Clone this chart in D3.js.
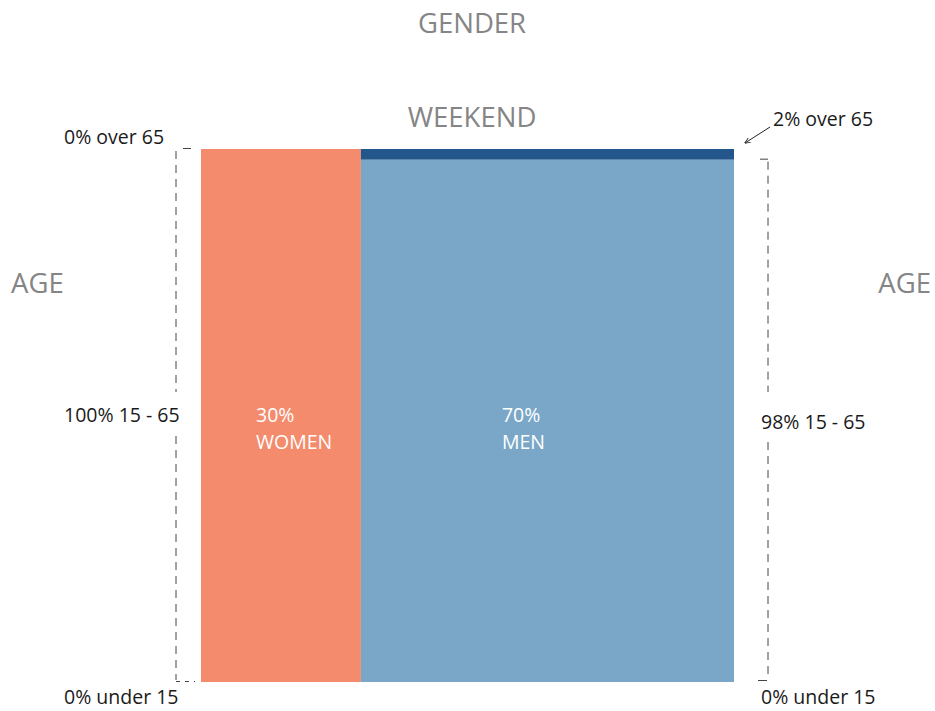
<!DOCTYPE html>
<html>
<head>
  <meta charset="utf-8">
  <title>Weekend mosaic</title>
  <style>
    body { margin: 0; background: #fff; }
    svg text { font-family: "Open Sans", "Noto Sans", sans-serif; }
    .title { fill: #858585; font-size: 27.5px; }
    .lab { fill: #1a1a1a; font-size: 19.5px; }
    .inner { fill: #fff; font-size: 19.5px; }
    .brk { stroke: #444; stroke-width: 1; fill: none; }
  </style>
</head>
<body>
  <svg id="chart" width="935" height="711"></svg>

  <script src="https://cdn.jsdelivr.net/npm/d3@7/dist/d3.min.js"></script>
  <script>
    var genders = ['WOMEN', 'MEN'];
    var genderShare = [30, 70];
    var ageGroups = ['under 15', '15 - 65', 'over 65'];
    var womenAge = [0, 100, 0];
    var menAge = [0, 98, 2];
    var colors = [
      ['#f48b6d', '#f48b6d', '#f48b6d'],
      ['#7aa7c7', '#7aa7c7', '#23568a']
    ];

    var svg = d3.select('#chart');
    var x = d3.scaleLinear().domain([0, 100]).range([201, 734]);
    var y = d3.scaleLinear().domain([0, 100]).range([682, 149]);

    // build mosaic cells
    var cells = [];
    var x0 = 0;
    [womenAge, menAge].forEach(function (ages, g) {
      var y0 = 0;
      ages.forEach(function (v, a) {
        cells.push({ g: g, a: a, x0: x0, x1: x0 + genderShare[g], y0: y0, y1: y0 + v });
        y0 += v;
      });
      x0 += genderShare[g];
    });

    svg.selectAll('rect.cell')
      .data(cells.filter(d => d.y1 > d.y0))
      .enter()
      .append('rect')
      .attr('class', 'cell')
      .attr('x', d => x(d.x0))
      .attr('y', d => y(d.y1))
      .attr('width', d => x(d.x1) - x(d.x0))
      .attr('height', d => y(d.y0) - y(d.y1))
      .attr('fill', d => colors[d.g][d.a]);

    // labels inside the bars
    var gl = svg.selectAll('g.glab')
      .data(genders)
      .enter()
      .append('g')
      .attr('class', 'glab');
    gl.append('text').attr('class', 'inner')
      .attr('x', (d, i) => i == 0 ? x(0) + 55 : x(30) + 141)
      .attr('y', 422)
      .text((d, i) => genderShare[i] + '%');
    gl.append('text').attr('class', 'inner')
      .attr('x', (d, i) => i == 0 ? x(0) + 55 : x(30) + 141)
      .attr('y', 449)
      .text(d => d);

    // titles
    svg.append('text').attr('class', 'title').attr('x', 472).attr('y', 33)
      .attr('text-anchor', 'middle').text('GENDER');
    svg.append('text').attr('class', 'title').attr('x', 472).attr('y', 127)
      .attr('text-anchor', 'middle').text('WEEKEND');
    svg.append('text').attr('class', 'title').attr('x', 11).attr('y', 293).text('AGE');
    svg.append('text').attr('class', 'title').attr('x', 931).attr('y', 293)
      .attr('text-anchor', 'end').text('AGE');

    // left bracket (women)
    var lx = 176;
    var lb = svg.append('g');
    lb.append('line').attr('class', 'brk').attr('stroke-dasharray', '8,6')
      .attr('x1', lx).attr('x2', lx).attr('y1', y(100) + 2).attr('y2', 392);
    lb.append('line').attr('class', 'brk').attr('stroke-dasharray', '8,6')
      .attr('x1', lx).attr('x2', lx).attr('y1', 436).attr('y2', y(0) - 2);
    lb.append('line').attr('class', 'brk')
      .attr('x1', 183).attr('x2', 191).attr('y1', y(100) - 0.5).attr('y2', y(100) - 0.5);
    lb.append('line').attr('class', 'brk').attr('stroke-dasharray', '4,5')
      .attr('x1', lx).attr('x2', 195).attr('y1', y(0) - 0.5).attr('y2', y(0) - 0.5);

    // right bracket (men)
    var rx = 768;
    var rb = svg.append('g');
    rb.append('line').attr('class', 'brk').attr('stroke-dasharray', '8,6')
      .attr('x1', rx).attr('x2', rx).attr('y1', y(98) + 2).attr('y2', 392);
    rb.append('line').attr('class', 'brk').attr('stroke-dasharray', '8,6')
      .attr('x1', rx).attr('x2', rx).attr('y1', 442).attr('y2', y(0) - 2);
    rb.append('line').attr('class', 'brk')
      .attr('x1', 760).attr('x2', rx).attr('y1', y(98) - 0.5).attr('y2', y(98) - 0.5);
    rb.append('line').attr('class', 'brk')
      .attr('x1', 758).attr('x2', rx - 1).attr('y1', y(0) - 1.5).attr('y2', y(0) - 1.5);

    // age labels
    svg.append('text').attr('class', 'lab').attr('x', 64).attr('y', 144)
      .text(womenAge[2] + '% ' + ageGroups[2]);
    svg.append('text').attr('class', 'lab').attr('x', 64).attr('y', 422)
      .text(womenAge[1] + '% ' + ageGroups[1]);
    svg.append('text').attr('class', 'lab').attr('x', 64).attr('y', 704)
      .text(womenAge[0] + '% ' + ageGroups[0]);
    svg.append('text').attr('class', 'lab').attr('x', 773).attr('y', 126)
      .text(menAge[2] + '% ' + ageGroups[2]);
    svg.append('text').attr('class', 'lab').attr('x', 761).attr('y', 429)
      .text(menAge[1] + '% ' + ageGroups[1]);
    svg.append('text').attr('class', 'lab').attr('x', 761).attr('y', 704)
      .text(menAge[0] + '% ' + ageGroups[0]);

    // arrow to the small over-65 slice
    svg.append('defs').append('marker')
      .attr('id', 'ah').attr('viewBox', '0 0 10 10').attr('refX', 9).attr('refY', 5)
      .attr('markerWidth', 6).attr('markerHeight', 6).attr('orient', 'auto')
      .append('path').attr('d', 'M0,1L10,5L0,9').attr('fill', 'none').attr('stroke', '#222').attr('stroke-width', 1.5);
    svg.append('line').attr('x1', 770).attr('y1', 127).attr('x2', 745).attr('y2', 143)
      .attr('stroke', '#222').attr('stroke-width', 1).attr('marker-end', 'url(#ah)');
  </script>
</body>
</html>
